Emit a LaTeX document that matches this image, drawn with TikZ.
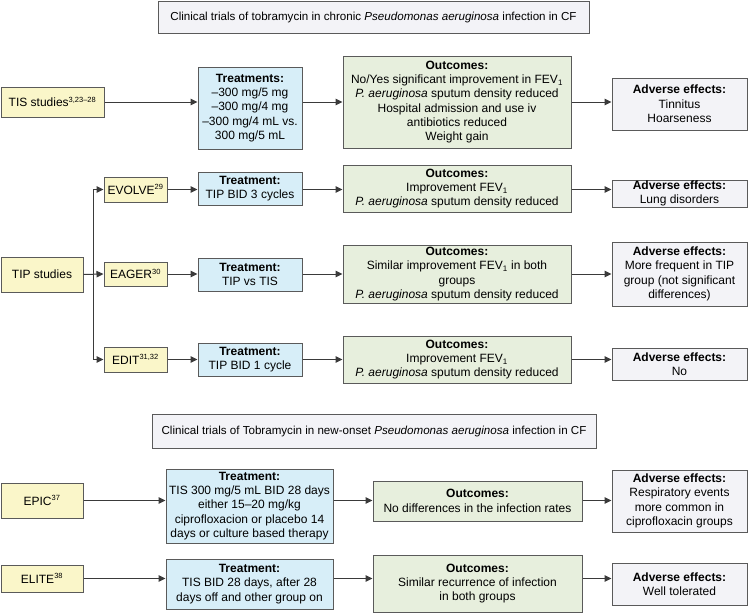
\documentclass[tikz,border=0pt]{standalone}
\usepackage{fontspec}
\setmainfont{Liberation Sans}
\usetikzlibrary{arrows.meta}
\definecolor{cyel}{HTML}{FAF6C9}
\definecolor{cblu}{HTML}{D7EEF8}
\definecolor{cgrn}{HTML}{E7EFDD}
\definecolor{cgry}{HTML}{F3F3F7}
\definecolor{cbd}{HTML}{5A5A5A}
\definecolor{car}{HTML}{3A3A3A}
\tikzset{
  box/.style={draw=cbd, line width=1pt, inner sep=0pt, align=center,
    font=\fontsize{12}{14.3}\selectfont},
  ybox/.style={box, fill=cyel},
  bbox/.style={box, fill=cblu},
  gbox/.style={box, fill=cgrn},
  abox/.style={box, fill=cgry},
  tbox/.style={abox, font=\fontsize{11.6}{14}\selectfont},
  arr/.style={draw=car, line width=1pt, -{Triangle[length=7pt,width=6.5pt]}},
  ln/.style={draw=car, line width=1pt}
}
\newcommand\mybox[7]{\node[#2,minimum width={(#5-#3)*1pt},minimum height={(#6-#4)*1pt}] (#1) at ({(#3+#5)/2},{(#4+#6)/2}) {#7};}
\newcommand\sups[1]{\textsuperscript{\fontsize{7.5}{8}\selectfont #1}}
\newcommand\fev{FEV\textsubscript{\fontsize{8}{8}\selectfont 1}}
\begin{document}
\begin{tikzpicture}[x=1pt,y=-1pt]
\useasboundingbox (0,0) rectangle (748,613);
% titles
\mybox{t1}{tbox}{158}{1.5}{589}{33}{Clinical trials of tobramycin in chronic \textit{Pseudomonas aeruginosa} infection in CF}
\mybox{t2}{tbox}{152}{414}{596}{448}{Clinical trials of Tobramycin in new-onset \textit{Pseudomonas aeruginosa} infection in CF}
% TIS row
\mybox{tis}{ybox}{1}{87}{104}{117}{TIS studies\sups{3,23--28}}
\mybox{tisT}{bbox}{198}{67}{302}{149}{\textbf{Treatments:}\\--300 mg/5 mg\\--300 mg/4 mg\\--300 mg/4 mL vs.\\300 mg/5 mL}
\mybox{tisO}{gbox}{343}{56}{571}{148}{\textbf{Outcomes:}\\No/Yes significant improvement in \fev\\\textit{P. aeruginosa} sputum density reduced\\Hospital admission and use iv\\antibiotics reduced\\Weight gain}
\mybox{tisA}{abox}{612}{78}{747}{130}{\textbf{Adverse effects:}\\Tinnitus\\Hoarseness}
% TIP
\mybox{tip}{ybox}{1}{257}{83}{292}{TIP studies}
\mybox{evolve}{ybox}{104}{177}{167}{202}{EVOLVE\sups{29}}
\mybox{evT}{bbox}{198}{172}{302}{205}{\textbf{Treatment:}\\TIP BID 3 cycles}
\mybox{evO}{gbox}{343}{165}{571}{212}{\textbf{Outcomes:}\\Improvement \fev\\\textit{P. aeruginosa} sputum density reduced}
\mybox{evA}{abox}{612}{180}{747}{207}{\textbf{Adverse effects:}\\Lung disorders}
\mybox{eager}{ybox}{104}{262}{167}{286}{EAGER\sups{30}}
\mybox{eaT}{bbox}{198}{258}{302}{291}{\textbf{Treatment:}\\TIP vs TIS}
\mybox{eaO}{gbox}{343}{245}{571}{303}{\textbf{Outcomes:}\\Similar improvement \fev{} in both\\groups\\\textit{P. aeruginosa} sputum density reduced}
\mybox{eaA}{abox}{612}{242}{747}{306}{\textbf{Adverse effects:}\\More frequent in TIP\\group (not significant\\differences)}
\mybox{edit}{ybox}{104}{347}{167}{372}{EDIT\sups{31,32}}
\mybox{edT}{bbox}{198}{343}{302}{376}{\textbf{Treatment:}\\TIP BID 1 cycle}
\mybox{edO}{gbox}{343}{336}{571}{383}{\textbf{Outcomes:}\\Improvement \fev\\\textit{P. aeruginosa} sputum density reduced}
\mybox{edA}{abox}{612}{348}{747}{380}{\textbf{Adverse effects:}\\No}
% new-onset
\mybox{epic}{ybox}{1}{483}{83}{518}{EPIC\sups{37}}
\mybox{epT}{bbox}{166}{469}{333}{543}{\textbf{Treatment:}\\TIS 300 mg/5 mL BID 28 days\\either 15--20 mg/kg\\ciprofloxacion or placebo 14\\days or culture based therapy}
\mybox{epO}{gbox}{373}{481}{582}{521}{\textbf{Outcomes:}\\No differences in the infection rates}
\mybox{epA}{abox}{612}{470}{747}{532}{\textbf{Adverse effects:}\\Respiratory events\\more common in\\ciprofloxacin groups}
\mybox{elite}{ybox}{1}{565}{83}{592}{ELITE\sups{38}}
\mybox{elT}{bbox}{166}{559}{333}{609}{\textbf{Treatment:}\\TIS BID 28 days, after 28\\days off and other group on}
\mybox{elO}{gbox}{373}{555}{582}{612}{\textbf{Outcomes:}\\Similar recurrence of infection\\in both groups}
\mybox{elA}{abox}{612}{563}{747}{605}{\textbf{Adverse effects:}\\Well tolerated}
% connectors
\coordinate (tisy) at (0,102);
\draw[arr] (tis.east |- tisy) -- (tisT.west |- tisy);
\draw[arr] (tisT.east |- tisy) -- (tisO.west |- tisy);
\draw[arr] (tisO.east |- tisy) -- (tisA.west |- tisy);
\coordinate (br) at (93,274);
\draw[ln] (br |- evolve.west) -- (br |- edit.west);
\draw[arr] (tip.east) -- (eager.west);
\draw[arr] (br |- evolve.west) -- (evolve.west);
\draw[arr] (br |- edit.west) -- (edit.west);
\foreach \a/\b/\c/\d in {evolve/evT/evO/evA, eager/eaT/eaO/eaA, edit/edT/edO/edA, epic/epT/epO/epA, elite/elT/elO/elA}{
  \draw[arr] (\a.east) -- (\b.west |- \a.east);
  \draw[arr] (\b.east |- \a.east) -- (\c.west |- \a.east);
  \draw[arr] (\c.east |- \a.east) -- (\d.west |- \a.east);
}
\end{tikzpicture}
\end{document}
